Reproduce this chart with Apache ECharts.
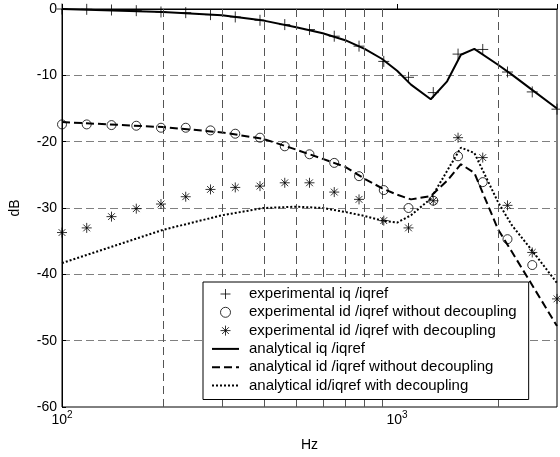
<!DOCTYPE html>
<html>
<head>
<meta charset="utf-8">
<script src="https://cdn.jsdelivr.net/npm/echarts@6/dist/echarts.min.js"></script>
<style>
  html, body { margin: 0; padding: 0; background: #fff; }
  #chart { width: 560px; height: 457px; }
</style>
</head>
<body>
<div id="chart"></div>
<script>
// measured frequencies (Hz)
const expFreq = [100, 118.5, 140.5, 166.6, 197.4, 234, 277.4, 328.9, 389.8, 462.1, 547.7, 649.3, 769.7, 912.4, 1081.5, 1282, 1520, 1801, 2135, 2531, 3000]
const expIq = [0, -0.05, -0.15, -0.25, -0.45, -0.55, -0.85, -1.2, -1.7, -2.35, -3.1, -4.1, -5.6, -7.9, -10.3, -12.6, -6.8, -6.1, -9.5, -12.5, -15.1]
const expIdNoDec = [-17.4, -17.4, -17.5, -17.6, -17.9, -17.9, -18.3, -18.8, -19.4, -20.7, -21.9, -23.2, -25.2, -27.3, -30.0, -28.9, -22.2, -26.1, -34.7, -38.6]
const expIdDec = [-33.7, -33.0, -31.3, -30.1, -29.4, -28.3, -27.2, -26.9, -26.7, -26.2, -26.2, -27.6, -28.7, -31.9, -33.0, -28.9, -19.4, -22.4, -29.6, -36.7, -43.7]

// analytical curves
const anaFreq = [100, 200, 300, 400, 500, 600, 700, 800, 900, 1000, 1100, 1260, 1410, 1550, 1700, 2000, 2200, 2500, 3000]
const anaIq = [0, -0.45, -0.95, -1.75, -2.75, -3.65, -4.7, -6.0, -7.5, -9.3, -11.4, -13.6, -10.9, -6.9, -6.0, -8.4, -9.9, -12.0, -15.0]
const anaIdNoDec = [-17.05, -17.8, -18.6, -19.6, -21.2, -22.6, -23.8, -25.6, -27.0, -28.0, -28.7, -28.2, -25.9, -23.4, -24.7, -33.2, -36.6, -41.2, -47.8]
const anaIdDec = [-38.3, -33.3, -31.1, -30.0, -29.8, -30.0, -30.6, -31.2, -31.9, -32.2, -31.1, -28.6, -24.4, -20.9, -21.7, -29.1, -32.6, -36.1, -41.3]

// minor grid lines of the log axis
const minorFreq = [200, 300, 400, 500, 600, 700, 800, 900, 2000]

const names = [
  'experimental iq /iqref',
  'experimental id /iqref without decoupling',
  'experimental id /iqref with decoupling',
  'analytical iq /iqref',
  'analytical id /iqref without decoupling',
  'analytical id/iqref with decoupling',
]

const font = 'Arial, "Liberation Sans", sans-serif'
const plusPath = 'path://M0,5L10,5M5,0L5,10'
const starPath = 'path://M5,0L5,10M0,5L10,5M1.6,1.6L8.4,8.4M8.4,1.6L1.6,8.4'
const hollow = { color: 'rgba(0,0,0,0)', borderColor: '#000', borderWidth: 1 }
const noDot = { color: 'rgba(0,0,0,0)', borderWidth: 0 }

const pairs = (xs, ys) => ys.map((y, i) => [xs[i], y])

const chart = echarts.init(document.getElementById('chart'))

chart.setOption({
  animation: false,
  backgroundColor: '#fff',
  textStyle: { fontFamily: font },
  grid: {
    left: 58, top: 9, right: -3, bottom: 49,
    show: true, borderColor: '#000', borderWidth: 1, backgroundColor: '#fff',
  },
  legend: {
    orient: 'vertical',
    left: 203, top: 282,
    z: 50,
    padding: [3, 12, 5, 8],
    itemWidth: 27, itemHeight: 10, itemGap: 0.3,
    backgroundColor: '#fff',
    borderColor: '#000', borderWidth: 1, borderRadius: 0,
    itemStyle: { borderWidth: 1 },
    textStyle: { fontSize: 15, color: '#000', lineHeight: 18, padding: [0, 0, 0, 5], fontFamily: font },
    data: names,
  },
  xAxis: {
    type: 'log', logBase: 10,
    min: 100, max: 3000,
    name: 'Hz', nameLocation: 'middle', nameGap: 31,
    nameTextStyle: { fontSize: 14, color: '#000', fontFamily: font },
    axisLine: { lineStyle: { color: '#000', width: 1 } },
    axisTick: { inside: true, length: 5, lineStyle: { color: '#000' } },
    splitLine: { show: false },
    axisLabel: {
      margin: 6,
      color: '#000',
      formatter: (v) => {
        const e = Math.log10(v)
        if (Math.abs(e - Math.round(e)) > 1e-6) return ''
        return '{b|10}{s|' + Math.round(e) + '}'
      },
      rich: {
        b: { fontSize: 14, lineHeight: 14, verticalAlign: 'bottom', color: '#000', fontFamily: font },
        s: { fontSize: 10, lineHeight: 10, padding: [0, 0, 10, 0], color: '#000', fontFamily: font },
      },
    },
  },
  yAxis: {
    type: 'value',
    min: -60, max: 0, interval: 10,
    name: 'dB', nameLocation: 'middle', nameGap: 40,
    nameTextStyle: { fontSize: 14, color: '#000', fontFamily: font },
    axisLine: { show: true, lineStyle: { color: '#000', width: 1 } },
    axisTick: { inside: true, length: 4, lineStyle: { color: '#000' } },
    axisLabel: { margin: 5, fontSize: 14, color: '#000', fontFamily: font },
    splitLine: {
      show: true, showMinLine: false, showMaxLine: false,
      lineStyle: { color: '#808080', type: [8, 4], width: 1 },
    },
  },
  series: [
    {
      name: names[0], type: 'scatter',
      symbol: plusPath, symbolSize: 11,
      itemStyle: hollow,
      data: pairs(expFreq, expIq),
      z: 5,
    },
    {
      name: names[1], type: 'scatter',
      symbol: 'circle', symbolSize: 9,
      itemStyle: hollow,
      data: pairs(expFreq, expIdNoDec),
      z: 5,
    },
    {
      name: names[2], type: 'scatter',
      symbol: starPath, symbolSize: 10,
      itemStyle: hollow,
      data: pairs(expFreq, expIdDec),
      z: 5,
    },
    {
      name: names[3], type: 'line',
      symbol: 'none',
      itemStyle: noDot,
      lineStyle: { color: '#000', width: 2, type: 'solid' },
      data: pairs(anaFreq, anaIq),
      markLine: {
        silent: true, symbol: 'none', animation: false,
        label: { show: false },
        lineStyle: { color: '#555', type: [8, 5], width: 1 },
        data: minorFreq.map((f) => ({ xAxis: f })),
      },
      z: 4,
    },
    {
      name: names[4], type: 'line',
      symbol: 'none',
      itemStyle: noDot,
      lineStyle: { color: '#000', width: 2, type: [8, 4] },
      data: pairs(anaFreq, anaIdNoDec),
      z: 4,
    },
    {
      name: names[5], type: 'line',
      symbol: 'none',
      itemStyle: noDot,
      lineStyle: { color: '#000', width: 2, type: [2, 2] },
      data: pairs(anaFreq, anaIdDec),
      z: 4,
    },
  ],
})
</script>
</body>
</html>
